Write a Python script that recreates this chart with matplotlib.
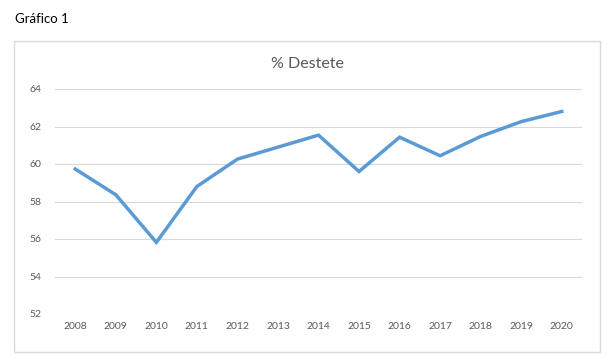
import matplotlib.pyplot as plt
from matplotlib.patches import Rectangle

# datos
anos = ["2008", "2009", "2010", "2011", "2012", "2013", "2014",
        "2015", "2016", "2017", "2018", "2019", "2020"]
destete = [59.73, 58.36, 55.82, 58.80, 60.26, 60.90, 61.54,
           59.60, 61.43, 60.44, 61.47, 62.26, 62.80]
y_ticks = [52, 54, 56, 58, 60, 62, 64]

plt.rcParams['font.family'] = ['Lato', 'DejaVu Sans']

fig = plt.figure(figsize=(6.12, 3.57), dpi=100)
fig.patch.set_facecolor("white")

# marco del gráfico
fig.patches.append(Rectangle((14 / 612, 1 - 352 / 357), 586 / 612, 311 / 357,
                             transform=fig.transFigure, fill=False,
                             edgecolor="#d9d9d9", linewidth=1))

fig.text(15 / 612, 1 - 19 / 357, "Gráfico 1", fontsize=9.5, color="black",
         va="center", ha="left")

ax = fig.add_axes([55 / 612, 1 - 314 / 357, 527 / 612, 225 / 357])
x = range(len(anos))
ax.plot(x, destete, color="#5b9bd5", linewidth=2.5, solid_joinstyle="miter")

ax.set_xlim(-0.5, len(anos) - 0.5)
ax.set_ylim(52, 64)
ax.set_xticks(list(x))
ax.set_xticklabels(anos)
ax.set_yticks(y_ticks)
ax.grid(axis="y", color="#d9d9d9", linewidth=0.8)
ax.set_axisbelow(True)
for s in ax.spines.values():
    s.set_visible(False)
ax.tick_params(length=0, labelsize=7.5, colors="#595959", pad=6)
ax.tick_params(axis="y", pad=10)

fig.text(307 / 612, 1 - 64 / 357, "% Destete", fontsize=11.5, color="#595959",
         ha="center", va="center")

fig.savefig("out.png", dpi=100)
